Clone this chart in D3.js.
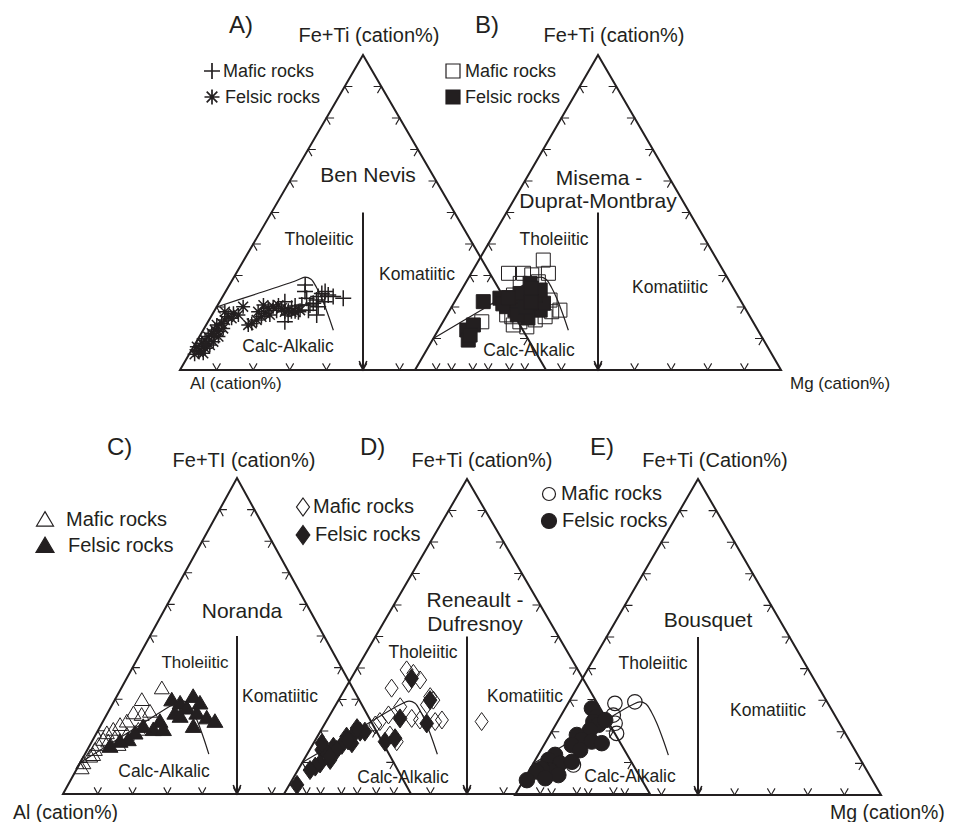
<!DOCTYPE html>
<html>
<head>
<meta charset="utf-8">
<script src="https://cdn.jsdelivr.net/npm/d3@7"></script>
<style>
  body { margin: 0; background: #fff; }
  svg { display: block; font-family: "Liberation Sans", Arial, Helvetica, sans-serif; }
</style>
</head>
<body>
<svg id="chart" width="953" height="822"></svg>
<script>
// Jensen cation plots. Every sample is [Fe+Ti %, Mg %]; Al % is the remainder to 100.

// A) Ben Nevis
const benNevisMafic = [
  [22.8,33.2],[23.3,30.2],[23.8,28.6],[24.9,27.2],[24.3,26.6],[23.3,26.1],[22.2,26.2],[27.0,20.7],
  [24.9,21.7],[22.8,23.2],[17.5,28.6],[15.3,21.0],[19.6,20.7],[21.7,17.8],[18.5,23.1],[20.6,23.0],
  [17.5,20.8],[20.1,27.7],[21.2,25.8],[21.7,28.7],[19.0,16.9],[19.0,25.6],[20.3,21.3],[20.6,25.2]
];
const benNevisFelsic = [
  [7.4,0.9],[8.5,1.7],[9.5,2.1],[10.6,2.4],[11.7,2.8],[12.7,3.2],[12.2,4.4],[14.3,2.9],[14.8,4.0],
  [15.9,4.3],[16.9,4.7],[18.5,3.0],[18.0,5.6],[17.5,7.2],[20.1,7.2],[14.8,12.2],[15.9,13.0],[16.9,13.8],
  [18.0,14.2],[20.6,12.5],[19.6,14.3],[20.1,15.4],[20.6,16.6],[19.6,18.0],[18.5,19.4],[19.0,20.1],
  [18.5,21.2],[18.5,22.2],[19.0,23.3],[6.9,3.4],[6.3,2.3],[7.9,4.2],[5.8,2.1],[5.3,3.7],[10.6,5.2],
  [9.0,4.6],[13.2,5.2],[16.4,5.9],[17.5,15.8],[18.5,12.1],[14.3,11.5],[8.0,2.9],[11.0,3.9],[5.0,1.5]
];

// B) Misema - Duprat-Montbray
const misemaMafic = [
  [34.9,17.6],[30.7,10.2],[30.7,14.3],[30.7,21.1],[28.0,19.7],[27.5,15.0],[23.8,15.0],[19.0,30.1],
  [18.5,28.1],[16.9,18.0],[15.3,21.0],[13.7,23.7],[15.9,24.9],[14.3,19.7],[15.3,10.6],[16.9,27.1],
  [17.5,16.3],[22.2,25.8],[30.2,16.8]
];
const misemaFelsic = [
  [21.7,7.8],[22.8,11.8],[22.2,15.3],[27.5,17.7],[24.9,19.4],[22.2,19.4],[20.6,18.4],[20.1,22.3],
  [19.0,24.7],[18.0,20.6],[22.2,22.2],[12.7,7.8],[9.5,9.8],[14.3,8.8],[11.1,9.5],[21.2,24.5],
  [24.3,16.6],[20.1,15.0],[19.0,21.1],[19.0,17.8],[23.8,20.9],[25.4,21.5],[16.5,22.6],[21.0,13.5],
  [23.0,14.0],[26.0,18.8],[17.5,19.2],[20.0,20.2],[21.5,21.0]
];

// C) Noranda
const norandaMafic = [
  [33.4,11.7],[29.7,7.8],[25.5,7.5],[25.0,10.1],[26.0,12.0],[22.9,6.9],[21.8,5.5],[20.3,4.3],
  [19.2,3.0],[16.6,4.7],[17.1,3.0],[15.5,2.4],[13.9,2.2],[11.8,1.9],[9.7,1.0],[8.1,1.3],
  [15.5,8.2],[18.7,9.0],[20.3,11.5],[17.6,6.1],[12.3,2.5]
];
const norandaFelsic = [
  [29.7,16.4],[28.7,19.3],[30.8,22.0],[28.7,25.0],[27.1,22.0],[25.5,19.4],[25.5,25.7],[24.0,29.3],
  [22.9,32.2],[21.3,26.8],[22.9,16.4],[20.3,15.8],[21.3,12.4],[24.5,21.4],[20.3,18.7],[19.2,11.1],
  [17.1,10.2],[16.6,8.1],[15.0,6.0]
];

// D) Reneault - Dufresnoy
const reneaultMafic = [
  [38.3,16.2],[36.2,19.1],[35.1,16.5],[33.6,12.6],[30.9,24.5],[29.8,25.9],[28.3,24.9],[27.7,17.9],
  [25.1,16.0],[23.0,14.7],[21.9,14.0],[24.0,22.9],[23.5,25.4],[23.0,29.8],[23.5,31.4],[16.6,22.5],
  [18.7,19.6],[23.0,42.5],[39.4,13.8]
];
const reneaultFelsic = [
  [36.7,16.5],[29.8,25.0],[24.0,19.7],[22.4,27.8],[17.7,21.5],[16.6,19.3],[19.8,10.9],[18.7,9.6],
  [18.2,8.0],[15.6,8.0],[15.0,6.0],[12.9,5.3],[14.0,3.3],[9.7,5.0],[8.7,4.2],[10.8,7.2],
  [14.0,7.4],[19.8,12.2],[16.1,10.5],[2.9,2.1],[7.6,3.3],[16.1,2.3],[20.9,9.5],[12.0,6.5],[17.0,9.0]
];

// E) Bousquet
const bousquetMafic = [
  [29.0,12.8],[29.5,18.0],[25.3,14.2],[22.7,16.0],[19.5,18.0],[9.5,11.2]
];
const bousquetFelsic = [
  [27.4,7.3],[24.8,9.9],[23.2,9.8],[22.2,11.7],[20.6,10.2],[19.0,7.4],[17.4,9.5],[16.9,12.5],
  [16.4,15.5],[15.8,7.6],[14.2,10.7],[12.7,4.6],[11.1,3.6],[10.0,7.3],[7.9,5.6],[8.4,3.1],
  [7.4,2.2],[6.3,8.7],[5.3,5.6],[4.7,0.9],[10.5,10.3],[23.7,12.8]
];

// Tholeiitic / calc-alkalic boundary, [Fe+Ti %, Mg %]
const boundaryStandard = [
  [10,0],[19.2,8.8],[28.4,17.6],[29.5,19.4],[28.8,21.4],[26.2,24.2],[22.7,27.4],[17.4,31.8],[12.6,35.6]
];
const boundaryBenNevis = [
  [20,0],[24.2,8.9],[28.4,17.6],[29.5,19.4],[28.8,21.4],[26.2,24.2],[22.7,27.4],[17.4,31.8],[12.6,35.6]
];

const tickSteps = [10,20,30,40,50,60,70,80,90];

const INK = "#231f20";

// Marker shapes; the size argument is the marker width in pixels.
const plusShape = { draw(c, s) { const r = s / 2; c.moveTo(-r, 0); c.lineTo(r, 0); c.moveTo(0, -r); c.lineTo(0, r); } };
const starShape = { draw(c, s) {
  const r = s / 2, q = r * Math.SQRT1_2;
  c.moveTo(-r, 0); c.lineTo(r, 0); c.moveTo(0, -r); c.lineTo(0, r);
  c.moveTo(-q, -q); c.lineTo(q, q); c.moveTo(-q, q); c.lineTo(q, -q);
} };
const squareShape = { draw(c, s) { const r = s / 2; c.moveTo(-r, -r); c.lineTo(r, -r); c.lineTo(r, r); c.lineTo(-r, r); c.closePath(); } };
const triangleShape = { draw(c, s) { const r = s / 2, h = s * 0.85; c.moveTo(0, -h * 0.58); c.lineTo(r, h * 0.42); c.lineTo(-r, h * 0.42); c.closePath(); } };
const diamondShape = { draw(c, s) { const w = s * 0.36, h = s * 0.5; c.moveTo(0, -h); c.lineTo(w, 0); c.lineTo(0, h); c.lineTo(-w, 0); c.closePath(); } };
const circleShape = { draw(c, s) { const r = s / 2; c.moveTo(r, 0); c.arc(0, 0, r, 0, 2 * Math.PI); } };

const panels = [
  {
    frame: { left: 180, base: 370, width: 366, height: 315 },
    boundary: boundaryBenNevis,
    mafic: benNevisMafic, felsic: benNevisFelsic,
    maficMark: { shape: plusShape, size: 16, filled: false, sw: 1.5 },
    felsicMark: { shape: starShape, size: 14, filled: false, sw: 1.5 },
    legend: { x: 212, y: [71, 97], textX: [223, 225], size: 18, marks: [16, 15] },
    texts: [
      { t: "A)", x: 229, y: 33, s: 24, a: "start" },
      { t: "Fe+Ti (cation%)", x: 369, y: 42, s: 20 },
      { t: "Ben Nevis", x: 368, y: 182, s: 21 },
      { t: "Tholeiitic", x: 319, y: 245, s: 17.5 },
      { t: "Komatiitic", x: 417, y: 280, s: 17.5 },
      { t: "Calc-Alkalic", x: 288, y: 352, s: 17.5 }
    ]
  },
  {
    frame: { left: 415, base: 370, width: 366, height: 315 },
    boundary: boundaryStandard,
    mafic: misemaMafic, felsic: misemaFelsic,
    maficMark: { shape: squareShape, size: 14, filled: false, sw: 1 },
    felsicMark: { shape: squareShape, size: 14, filled: true, sw: 1 },
    legend: { x: 453, y: [71, 97], textX: [465, 465], size: 18, marks: [14, 14] },
    texts: [
      { t: "B)", x: 475, y: 33, s: 24, a: "start" },
      { t: "Fe+Ti (cation%)", x: 614, y: 42, s: 20 },
      { t: "Misema -", x: 599, y: 185, s: 21 },
      { t: "Duprat-Montbray", x: 598, y: 208, s: 21 },
      { t: "Tholeiitic", x: 554, y: 245, s: 17.5 },
      { t: "Komatiitic", x: 670, y: 293, s: 17.5 },
      { t: "Calc-Alkalic", x: 529, y: 356, s: 17.5 }
    ]
  },
  {
    frame: { left: 63, base: 794, width: 348, height: 316 },
    boundary: boundaryStandard,
    mafic: norandaMafic, felsic: norandaFelsic,
    maficMark: { shape: triangleShape, size: 15, filled: false, sw: 1 },
    felsicMark: { shape: triangleShape, size: 16, filled: true, sw: 1 },
    legend: { x: 45, y: [520, 546], textX: [66, 68], size: 20, marks: [17, 18] },
    texts: [
      { t: "C)", x: 107, y: 455, s: 24, a: "start" },
      { t: "Fe+TI (cation%)", x: 244, y: 467, s: 20 },
      { t: "Noranda", x: 242, y: 618, s: 21 },
      { t: "Tholeiitic", x: 195, y: 668, s: 17 },
      { t: "Komatiitic", x: 280, y: 702, s: 17.5 },
      { t: "Calc-Alkalic", x: 164, y: 777, s: 17.5 }
    ]
  },
  {
    frame: { left: 284, base: 794, width: 366, height: 315 },
    boundary: boundaryStandard,
    mafic: reneaultMafic, felsic: reneaultFelsic,
    maficMark: { shape: diamondShape, size: 18, filled: false, sw: 1 },
    felsicMark: { shape: diamondShape, size: 19, filled: true, sw: 1 },
    legend: { x: 303, y: [507, 535], textX: [313, 315], size: 20, marks: [18, 19] },
    texts: [
      { t: "D)", x: 360, y: 455, s: 24, a: "start" },
      { t: "Fe+Ti (cation%)", x: 482, y: 467, s: 20 },
      { t: "Reneault -", x: 475, y: 607, s: 21 },
      { t: "Dufresnoy", x: 475, y: 631, s: 21 },
      { t: "Tholeiitic", x: 423, y: 658, s: 17.5 },
      { t: "Komatiitic", x: 525, y: 702, s: 17.5 },
      { t: "Calc-Alkalic", x: 403, y: 783, s: 17.5 }
    ]
  },
  {
    frame: { left: 515, base: 795, width: 366, height: 316 },
    boundary: boundaryStandard,
    mafic: bousquetMafic, felsic: bousquetFelsic,
    maficMark: { shape: circleShape, size: 14.5, filled: false, sw: 1.2 },
    felsicMark: { shape: circleShape, size: 15.5, filled: true, sw: 1 },
    legend: { x: 549, y: [494, 521], textX: [561, 562], size: 20, marks: [13, 15] },
    texts: [
      { t: "E)", x: 590, y: 455, s: 24, a: "start" },
      { t: "Fe+Ti (Cation%)", x: 715, y: 467, s: 20 },
      { t: "Bousquet", x: 708, y: 627, s: 21 },
      { t: "Tholeiitic", x: 653, y: 669, s: 17.5 },
      { t: "Komatiitic", x: 768, y: 716, s: 17.5 },
      { t: "Calc-Alkalic", x: 630, y: 782, s: 17.5 }
    ]
  }
];

// Corner axis labels
const axisLabels = [
  { t: "Al (cation%)", x: 190, y: 389, s: 17, a: "start" },
  { t: "Mg (cation%)", x: 790, y: 389, s: 17, a: "start" },
  { t: "Al (cation%)", x: 13, y: 819, s: 19.5, a: "start" },
  { t: "Mg (cation%)", x: 830, y: 819, s: 19.5, a: "start" }
];

const svg = d3.select("#chart");

function markStyle(sel, mark) {
  sel.attr("fill", mark.filled ? INK : "none")
     .attr("stroke", INK)
     .attr("stroke-width", mark.sw)
     .attr("stroke-linejoin", "miter");
}

function drawPanel(p) {
  const f = p.frame;
  const g = svg.append("g");
  // horizontal position follows Mg + half of Fe+Ti, vertical follows Fe+Ti
  const sx = d3.scaleLinear().domain([0, 100]).range([f.left, f.left + f.width]);
  const sy = d3.scaleLinear().domain([0, 100]).range([f.base, f.base - f.height]);
  const X = d => sx(d[1] + d[0] / 2);
  const Y = d => sy(d[0]);
  const line = d3.line().x(X).y(Y);

  // triangle outline: Al corner, Fe+Ti apex, Mg corner
  g.append("path")
    .attr("d", d3.line().x(X).y(Y).curve(d3.curveLinearClosed)([[0, 0], [100, 0], [0, 100]]))
    .attr("fill", "none").attr("stroke", INK).attr("stroke-width", 2).attr("stroke-linejoin", "miter");

  // chevron ticks every 10 %, drawn inward along the two other edge directions
  const d = 2.1;
  const ticks = [];
  tickSteps.forEach(v => {
    ticks.push([[d, v - d], [0, v], [d, v]]);              // Al-Mg base
    ticks.push([[v, d], [v, 0], [v - d, d]]);              // Al-Fe edge
    ticks.push([[v, 100 - v - d], [v, 100 - v], [v - d, 100 - v]]); // Fe-Mg edge
  });
  g.append("g").selectAll("path").data(ticks).join("path")
    .attr("d", line)
    .attr("fill", "none").attr("stroke", INK).attr("stroke-width", 1.1);

  // tholeiitic / komatiitic divide with its arrow at the base
  const top = [50, 25], tip = [0, 50];
  g.append("path").attr("d", line([top, tip]))
    .attr("stroke", INK).attr("stroke-width", 2).attr("fill", "none");
  const tx = X(tip), ty = Y(tip);
  g.append("path")
    .attr("d", d3.line()([[tx - 3.8, ty - 9], [tx, ty - 0.5], [tx + 3.8, ty - 9]]))
    .attr("stroke", INK).attr("stroke-width", 1.6).attr("fill", "none");

  // tholeiitic / calc-alkalic boundary
  g.append("path")
    .attr("d", d3.line().x(X).y(Y).curve(d3.curveCatmullRom.alpha(0.5))(p.boundary))
    .attr("fill", "none").attr("stroke", INK).attr("stroke-width", 1.2);

  // samples
  const sym = m => d3.symbol().type(m.shape).size(m.size);
  g.append("g").selectAll("path").data(p.mafic).join("path")
    .attr("transform", q => `translate(${X(q)},${Y(q)})`)
    .attr("d", sym(p.maficMark))
    .call(markStyle, p.maficMark);
  g.append("g").selectAll("path").data(p.felsic).join("path")
    .attr("transform", q => `translate(${X(q)},${Y(q)})`)
    .attr("d", sym(p.felsicMark))
    .call(markStyle, p.felsicMark);

  // legend
  const lg = p.legend;
  const entries = [
    { mark: p.maficMark, label: "Mafic rocks" },
    { mark: p.felsicMark, label: "Felsic rocks" }
  ];
  entries.forEach((e, i) => {
    g.append("path")
      .attr("transform", `translate(${lg.x},${lg.y[i]})`)
      .attr("d", d3.symbol().type(e.mark.shape).size(lg.marks[i])())
      .call(markStyle, Object.assign({}, e.mark, { sw: e.mark.shape === plusShape || e.mark.shape === starShape ? 1.7 : 1.2 }));
    g.append("text")
      .attr("x", lg.textX[i]).attr("y", lg.y[i] + 6)
      .attr("font-size", lg.size).attr("fill", INK)
      .text(e.label);
  });

  // panel texts
  g.append("g").selectAll("text").data(p.texts).join("text")
    .attr("x", t => t.x).attr("y", t => t.y)
    .attr("font-size", t => t.s)
    .attr("text-anchor", t => t.a === "start" ? "start" : "middle")
    .attr("fill", INK)
    .text(t => t.t);
}

panels.forEach(drawPanel);

svg.append("g").selectAll("text").data(axisLabels).join("text")
  .attr("x", t => t.x).attr("y", t => t.y)
  .attr("font-size", t => t.s)
  .attr("text-anchor", t => t.a)
  .attr("fill", INK)
  .text(t => t.t);
</script>
</body>
</html>
